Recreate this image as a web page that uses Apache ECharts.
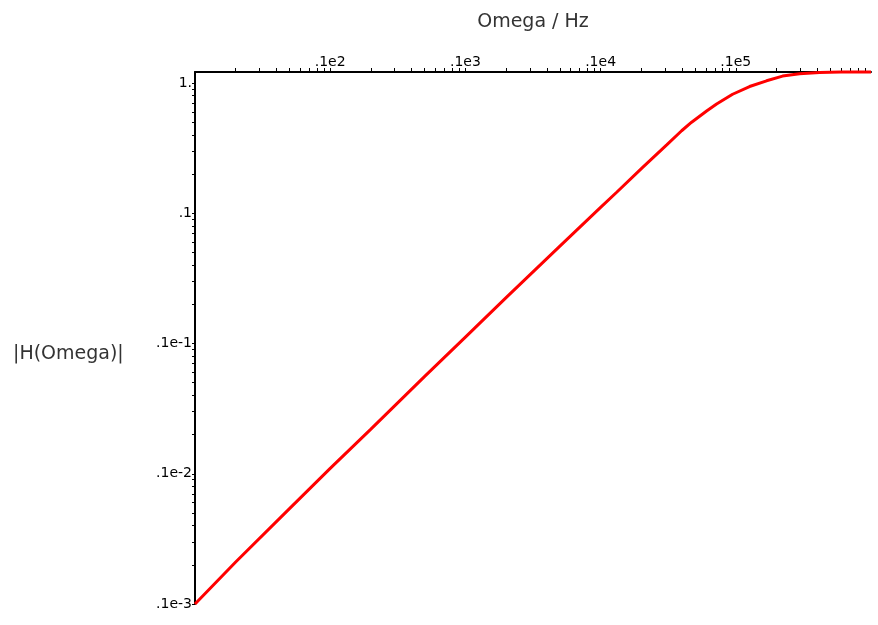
<!DOCTYPE html>
<html>
<head>
<meta charset="utf-8">
<script src="https://cdn.jsdelivr.net/npm/echarts@6/dist/echarts.min.js"></script>
<style>
  html, body { margin: 0; padding: 0; background: #fff; }
  #chart { width: 878px; height: 625px; }
</style>
</head>
<body>
<div id="chart"></div>
<script>
// frequency (Hz) and magnitude
const omega = [1, 2, 5, 10, 20, 50, 100, 200, 500, 1000, 1315, 2047, 3083, 3975, 4713, 6083, 7211, 9470, 12640, 16890, 22180, 29630, 41630, 60000, 100000];
const magH = [1.0e-4, 2.1e-4, 5.4e-4, 1.1e-3, 2.2e-3, 5.6e-3, 0.0112, 0.0225, 0.056, 0.111, 0.145, 0.225, 0.335, 0.43, 0.5, 0.61, 0.69, 0.82, 0.94, 1.04, 1.13, 1.18, 1.205, 1.215, 1.215];

// tick labels (Maple style)
const xLabelValues = [10, 100, 1000, 10000];
const xLabelText = [".1e2", ".1e3", ".1e4", ".1e5"];
const yLabelValues = [1e-4, 1e-3, 1e-2, 0.1, 1];
const yLabelText = [".1e-3", ".1e-2", ".1e-1", ".1", "1."];

// ticks at 1..9 of every decade
function decadeTicks(lo, hi) {
  const out = [];
  for (let d = lo; d <= hi; d++) {
    for (let m = 1; m <= 9; m++) {
      out.push(+(m * Math.pow(10, d)).toPrecision(3));
    }
  }
  return out;
}

function pickLabel(values, texts) {
  return (v) => {
    let best = 0;
    values.forEach((item, i) => {
      if (Math.abs(Math.log10(item) - Math.log10(v)) < Math.abs(Math.log10(values[best]) - Math.log10(v))) best = i;
    });
    return texts[best];
  };
}

const chart = echarts.init(document.getElementById("chart"), null, { renderer: "canvas" });

const labelFont = { fontFamily: "DejaVu Sans", fontSize: 14, color: "#000" };

const option = {
  animation: false,
  title: [
    {
      text: "|H(Omega)|",
      left: 8,
      top: 340,
      textStyle: { fontFamily: "DejaVu Sans", fontSize: 19, fontWeight: "normal", color: "#333" },
    },
  ],
  grid: { left: 195, right: 7, top: 72, bottom: 21 },
  xAxis: {
    type: "log",
    position: "top",
    min: 1,
    max: 100000,
    name: "Omega / Hz",
    nameLocation: "middle",
    nameGap: 40,
    nameTextStyle: { fontFamily: "DejaVu Sans", fontSize: 19, color: "#333" },
    axisLine: { lineStyle: { color: "#000", width: 2 } },
    axisTick: {
      show: true,
      length: 4,
      customValues: decadeTicks(0, 4).filter((v) => v > 1),
      lineStyle: { color: "#000", width: 1 },
    },
    axisLabel: {
      customValues: xLabelValues,
      formatter: pickLabel(xLabelValues, xLabelText),
      margin: 3,
      ...labelFont,
    },
    splitLine: { show: false },
    minorTick: { show: false },
  },
  yAxis: {
    type: "log",
    min: 1e-4,
    max: 1.215,
    axisLine: { show: true, lineStyle: { color: "#000", width: 2 } },
    axisTick: {
      show: true,
      length: 3,
      customValues: decadeTicks(-4, 0).filter((v) => v <= 1),
      lineStyle: { color: "#000", width: 1 },
    },
    axisLabel: {
      customValues: yLabelValues,
      formatter: pickLabel(yLabelValues, yLabelText),
      margin: 3,
      ...labelFont,
    },
    splitLine: { show: false },
    minorTick: { show: false },
  },
  series: [
    {
      type: "line",
      data: omega.map((w, i) => [w, magH[i]]),
      showSymbol: false,
      smooth: false,
      clip: false,
      lineStyle: { color: "#ff0000", width: 3 },
    },
  ],
};

chart.setOption(option);
</script>
</body>
</html>
